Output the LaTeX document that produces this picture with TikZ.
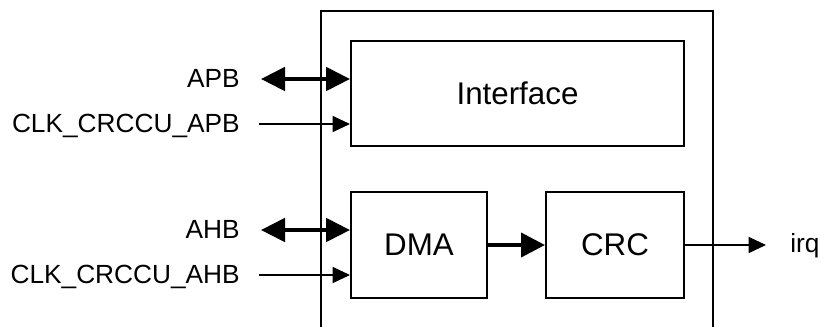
\documentclass[tikz,border=0pt]{standalone}
\usepackage{fontspec}
\setmainfont{Liberation Sans}
\usetikzlibrary{arrows.meta}
\tikzset{
  blockbox/.style={draw, line width=1.5pt, minimum width=#1, inner sep=0pt},
  siglabel/.style={font=\fontsize{19.7}{24}\selectfont, inner sep=0pt},
  blocklabel/.style={font=\fontsize{23.5}{28}\selectfont},
  busarrow/.style={line width=3pt, {Triangle[length=18pt,width=17.5pt]}-{Triangle[length=18pt,width=17.5pt]}},
  dataarrow/.style={line width=3pt, line cap=round, -{Triangle[length=18pt,width=18pt]}},
  sigarrow/.style={line width=1pt, -{Triangle[length=13pt,width=12pt]}},
  outerline/.style={line width=1.5pt}
}
\begin{document}
\begin{tikzpicture}[x=0.75pt,y=-0.75pt]
\useasboundingbox (0,0) rectangle (821,326);
% outer block (open at bottom)
\draw[outerline] (321,330) -- (321,11) -- (713,11) -- (713,330);
% inner blocks
\node[blockbox=333*0.75pt, minimum height=105*0.75pt, blocklabel] (iface) at (517.5,93.5) {Interface};
\node[blockbox=136*0.75pt, minimum height=106*0.75pt, blocklabel] (dma) at (419,245) {DMA};
\node[blockbox=138*0.75pt, minimum height=106*0.75pt, blocklabel] (crc) at (615,245) {CRC};
% left signals
\coordinate (apbL) at (261,79);
\coordinate (clkapbL) at (259,124);
\coordinate (ahbL) at (261,230);
\coordinate (clkahbL) at (259,275);
\node[siglabel, anchor=base east] (apbT) at (240,87.5) {APB};
\node[siglabel, anchor=base east] (clkapbT) at (240,132.5) {CLK\_CRCCU\_APB};
\node[siglabel, anchor=base east] (ahbT) at (240,238.5) {AHB};
\node[siglabel, anchor=base east] (clkahbT) at (240,283.5) {CLK\_CRCCU\_AHB};
\draw[busarrow] (apbL) -- (apbL -| iface.west);
\draw[sigarrow] (clkapbL) -- (clkapbL -| iface.west);
\draw[busarrow] (ahbL) -- (ahbL -| dma.west);
\draw[sigarrow] (clkahbL) -- (clkahbL -| dma.west);
% internal
\draw[dataarrow] (dma.east) -- (crc.west);
% irq
\coordinate (irqE) at (766,245);
\draw[sigarrow] (crc.east) -- (irqE);
\node[siglabel, anchor=base west] (irqT) at (790,252.5) {irq};
\end{tikzpicture}
\end{document}
